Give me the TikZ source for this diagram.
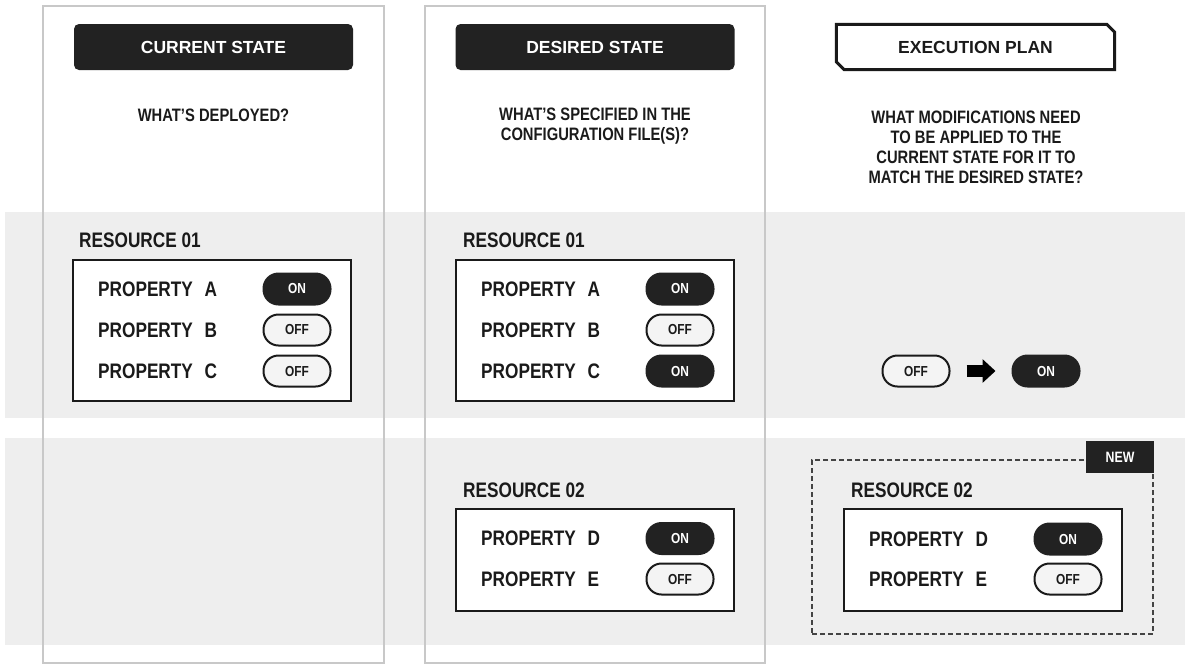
\documentclass[tikz,border=0pt]{standalone}
\usepackage{fontspec}
\setmainfont{Liberation Sans}[FakeStretch=0.82]
\newfontfamily\headfont{Liberation Sans}
\usepackage{xcolor}
\definecolor{tfDark}{HTML}{222222}
\definecolor{tfInk}{HTML}{1A1A1A}
\definecolor{tfBand}{HTML}{EEEEEE}
\definecolor{tfFrame}{HTML}{C8C8C8}
\definecolor{tfOff}{HTML}{F4F4F4}
\definecolor{tfDash}{HTML}{444444}
\usepackage{tikz}
\usetikzlibrary{arrows.meta,positioning,calc}
\tikzset{
    band/.style={
        fill=tfBand,
        draw=none
    },
    column/.style={
        draw=tfFrame,
        line width=1.2pt
    },
    header/.style={
        rectangle,
        fill=tfDark,
        rounded corners=5pt,
        minimum width=279pt,
        minimum height=46pt,
        inner sep=0pt,
        text=white,
        font=\headfont\fontsize{17.5}{20}\selectfont\bfseries
    },
    planbox/.style={
        rectangle,
        minimum width=278pt,
        minimum height=45pt,
        inner sep=0pt,
        text=tfInk,
        font=\headfont\fontsize{17.5}{20}\selectfont\bfseries
    },
    planborder/.style={
        draw=tfInk,
        line width=3pt
    },
    question/.style={
        align=center,
        anchor=base,
        inner sep=0pt,
        text=tfInk,
        font=\fontsize{18}{20}\selectfont\bfseries
    },
    resbox/.style={
        rectangle,
        draw=tfInk,
        fill=white,
        line width=2pt,
        minimum width=278pt,
        inner sep=0pt
    },
    reslabel/.style={
        anchor=base west,
        inner sep=0pt,
        text=tfInk,
        font=\fontsize{21}{24}\selectfont\bfseries
    },
    prop/.style={
        anchor=west,
        inner sep=0pt,
        text=tfInk,
        font=\fontsize{21}{24}\selectfont\bfseries
    },
    toggleon/.style={
        rectangle,
        rounded corners=15pt,
        fill=tfDark,
        draw=tfDark,
        line width=2pt,
        minimum width=67pt,
        minimum height=31pt,
        inner sep=0pt,
        text=white,
        font=\fontsize{14.5}{16}\selectfont\bfseries
    },
    toggleoff/.style={
        toggleon,
        fill=tfOff,
        draw=tfInk,
        text=tfInk
    },
    newzone/.style={
        rectangle,
        draw=tfDash,
        dash pattern=on 5pt off 3pt,
        line width=1.2pt,
        minimum width=341pt,
        minimum height=174pt,
        inner sep=0pt
    },
    newtag/.style={
        rectangle,
        fill=tfDark,
        minimum width=68pt,
        minimum height=32pt,
        inner sep=0pt,
        text=white,
        font=\fontsize{15}{17}\selectfont\bfseries
    },
    bigarrow/.style={
        -{Triangle[length=13pt 0, width=23pt 0]},
        line width=12pt,
        color=black
    }
}

\begin{document}
\begin{tikzpicture}[x=1pt, y=-1pt]
    \useasboundingbox (0,0) rectangle (1190,670);

    % Bands and columns
    \fill[band] (5,212) rectangle (1185,418);
    \fill[band] (5,438) rectangle (1185,645);
    \draw[column] (43,6) rectangle (384,663);
    \draw[column] (425,6) rectangle (765,663);

    % Headers
    \node[header] (hcur) at (213.5,47) {CURRENT STATE};
    \node[header] (hdes) at (595,47) {DESIRED STATE};
    \node[planbox] (hplan) at (975.5,47) {EXECUTION PLAN};
    \draw[planborder] (hplan.north west) -- ($(hplan.north east)+(-8,0)$) -- ($(hplan.north east)+(0,8)$)
        -- (hplan.south east) -- ($(hplan.south west)+(8,0)$) -- ($(hplan.south west)+(0,-8)$) -- cycle;

    % Questions (base = last line)
    \node[question] (qcur) at (213.5,121.5) {WHAT’S DEPLOYED?};
    \node[question] (qdes) at (595,140) {WHAT’S SPECIFIED IN THE\\CONFIGURATION FILE(S)?};
    \node[question] (qplan) at (976,183.5) {WHAT MODIFICATIONS NEED\\TO BE APPLIED TO THE\\CURRENT STATE FOR IT TO\\MATCH THE DESIRED STATE?};

    % Current state: resource 01
    \node[resbox, minimum height=141pt] (cres1) at (212,330.5) {};
    \node[reslabel] (lcres1) at ($(cres1.north west)+(7,-11.5)$) {RESOURCE 01};
    \node[prop] (pca) at ($(cres1.north west)+(26,30)$) {PROPERTY\hspace{7pt} A};
    \node[prop] (pcb) at ($(cres1.north west)+(26,71)$) {PROPERTY\hspace{7pt} B};
    \node[prop] (pcc) at ($(cres1.north west)+(26,112)$) {PROPERTY\hspace{7pt} C};
    \node[toggleon] (tca) at ($(cres1.north east)+(-55,30)$) {ON};
    \node[toggleoff] (tcb) at ($(cres1.north east)+(-55,71)$) {OFF};
    \node[toggleoff] (tcc) at ($(cres1.north east)+(-55,112)$) {OFF};

    % Desired state: resource 01
    \node[resbox, minimum height=141pt] (dres1) at (595,330.5) {};
    \node[reslabel] (ldres1) at ($(dres1.north west)+(8,-11.5)$) {RESOURCE 01};
    \node[prop] (pda) at ($(dres1.north west)+(26,30)$) {PROPERTY\hspace{7pt} A};
    \node[prop] (pdb) at ($(dres1.north west)+(26,71)$) {PROPERTY\hspace{7pt} B};
    \node[prop] (pdc) at ($(dres1.north west)+(26,112)$) {PROPERTY\hspace{7pt} C};
    \node[toggleon] (tda) at ($(dres1.north east)+(-55,30)$) {ON};
    \node[toggleoff] (tdb) at ($(dres1.north east)+(-55,71)$) {OFF};
    \node[toggleon] (tdc) at ($(dres1.north east)+(-55,112)$) {ON};

    % Desired state: resource 02
    \node[resbox, minimum height=102pt] (dres2) at (595,560) {};
    \node[reslabel] (ldres2) at ($(dres2.north west)+(8,-11)$) {RESOURCE 02};
    \node[prop] (pdd) at ($(dres2.north west)+(26,30.5)$) {PROPERTY\hspace{7pt} D};
    \node[prop] (pde) at ($(dres2.north west)+(26,71)$) {PROPERTY\hspace{7pt} E};
    \node[toggleon] (tdd) at ($(dres2.north east)+(-55,30.5)$) {ON};
    \node[toggleoff] (tde) at ($(dres2.north east)+(-55,71)$) {OFF};

    % Execution plan: change to resource 01
    \node[toggleoff] (chgoff) at (916,371) {OFF};
    \node[toggleon] (chgon) at (1046,371) {ON};
    \draw[bigarrow] ([xshift=16pt]chgoff.east) -- ([xshift=-16pt]chgon.west);

    % Execution plan: new resource 02
    \node[newzone] (zone) at (982.5,547) {};
    \node[newtag] (tag) at (1120,457) {NEW};
    \node[resbox, minimum height=102pt] (pres2) at (983,560) {};
    \node[reslabel] (lpres2) at ($(pres2.north west)+(8,-10.5)$) {RESOURCE 02};
    \node[prop] (ppd) at ($(pres2.north west)+(26,31)$) {PROPERTY\hspace{7pt} D};
    \node[prop] (ppe) at ($(pres2.north west)+(26,71)$) {PROPERTY\hspace{7pt} E};
    \node[toggleon] (tpd) at ($(pres2.north east)+(-55,31)$) {ON};
    \node[toggleoff] (tpe) at ($(pres2.north east)+(-55,71)$) {OFF};
\end{tikzpicture}
\end{document}
